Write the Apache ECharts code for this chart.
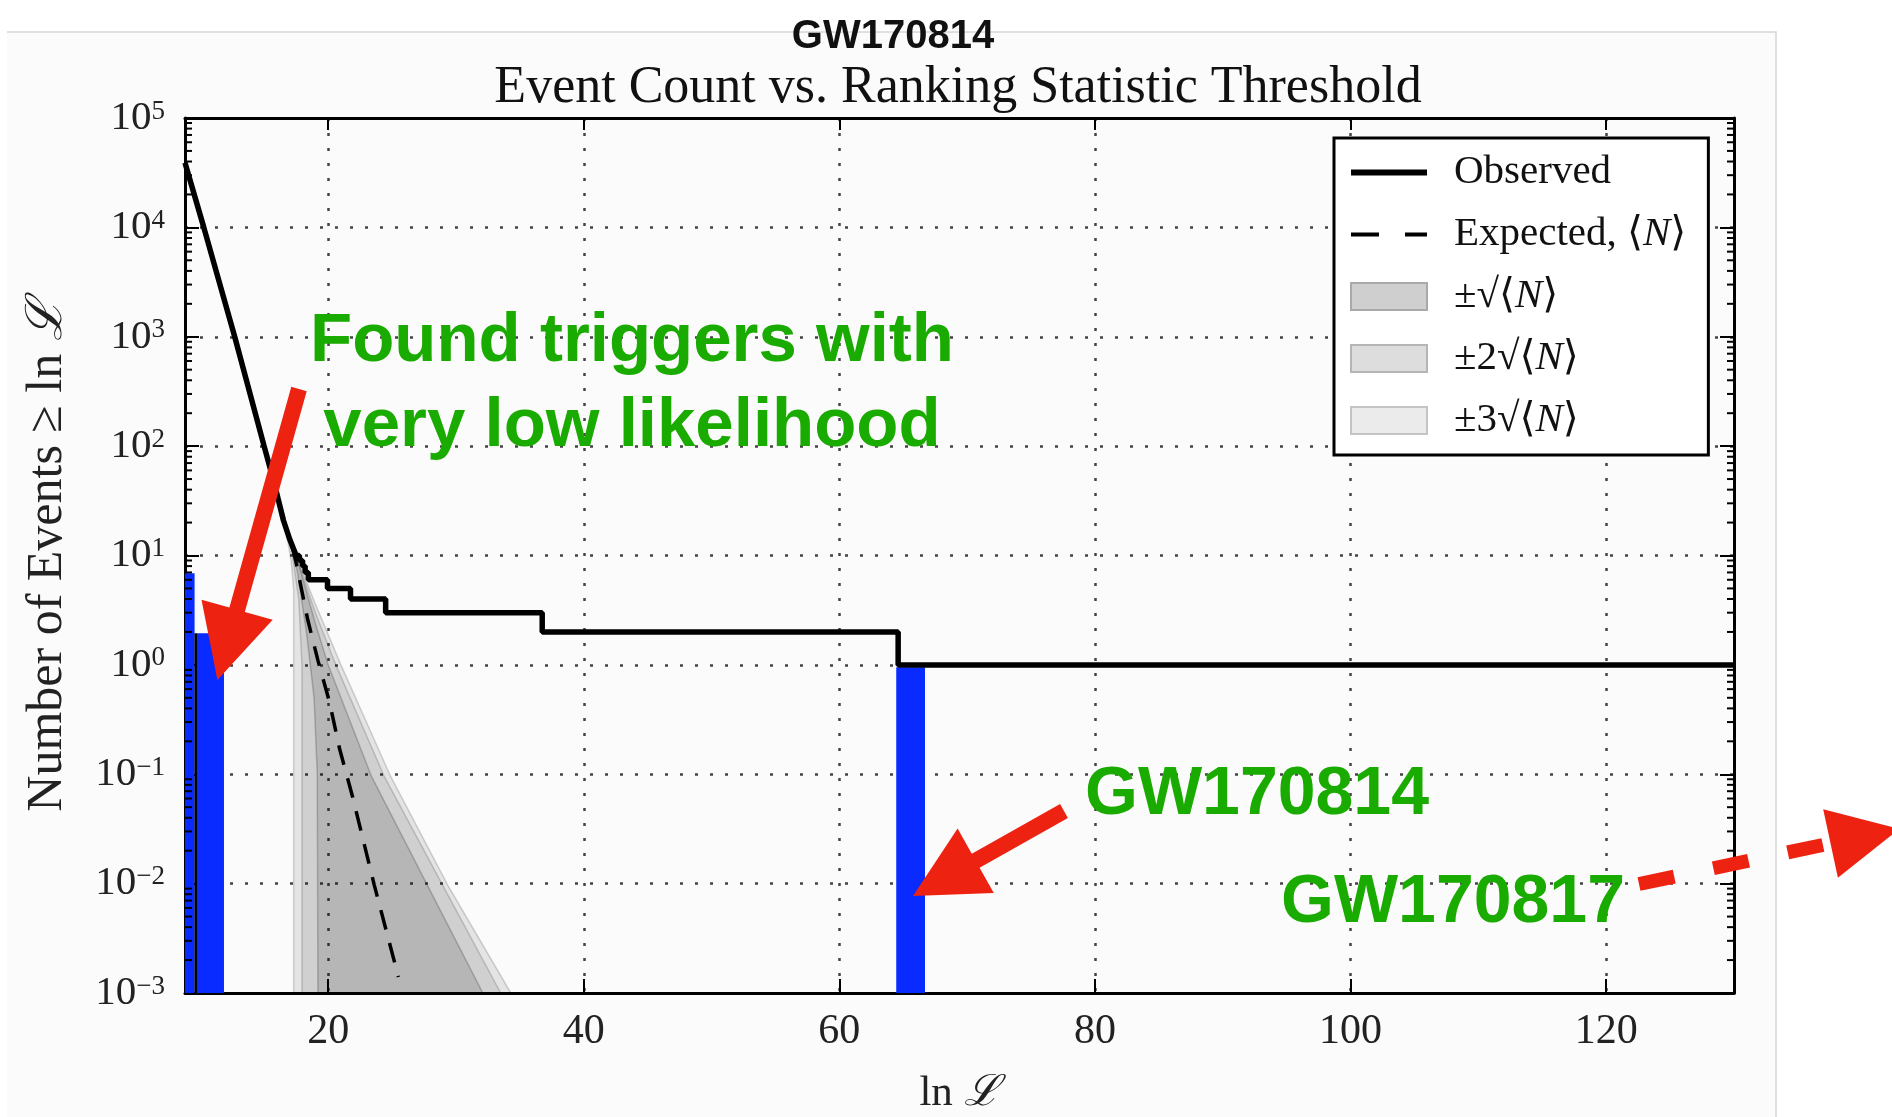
<!DOCTYPE html>
<html>
<head>
<meta charset="utf-8">
<title>GW170814 - Event Count vs. Ranking Statistic Threshold</title>
<script src="https://cdn.jsdelivr.net/npm/echarts@6/dist/echarts.min.js"></script>
<style>
  html, body { margin: 0; padding: 0; background: #fff; }
  #chart { width: 1892px; height: 1117px; }
</style>
</head>
<body>
<div id="chart"></div>
<script>
// axis ranges
const xMin = 8.8
const xMax = 130
const yMin = 1e-3
const yMax = 1e5

// observed number of events >= ln L (black solid, steps written out)
const observed = [
  [8.8, 39000], [10.27, 10000], [12.69, 1000], [14.99, 100], [15.8, 45],
  [16.5, 21], [17.0, 14], [17.5, 10], [17.75, 10], [17.75, 9], [18.0, 9],
  [18.0, 8], [18.2, 8], [18.2, 7], [18.45, 7], [18.45, 6], [19.95, 6],
  [19.95, 5], [21.75, 5], [21.75, 4], [24.5, 4], [24.5, 3], [36.75, 3],
  [36.75, 2], [64.6, 2], [64.6, 1], [130, 1]
]

// expected <N> (black dashed)
const expected = [
  [17.2, 12], [17.5, 8.5], [18.4, 2.6], [19.2, 1.1], [20.1, 0.46],
  [20.9, 0.17], [21.9, 0.063], [23.6, 0.0098], [25.5, 0.0014]
]

// grey bands, outline (upper edge, then lower edge back)
const band1 = [
  [16.8, 18], [17.5, 10], [19.0, 2.4], [20.0, 1.0], [23.4, 0.095], [27.8, 0.0095], [32.1, 0.001],
  [19.2, 0.001], [19.15, 0.1], [18.9, 0.5], [18.3, 2.0], [17.6, 7.0]
]
const band2 = [
  [16.4, 28], [17.0, 14], [17.5, 10], [19.0, 3.0], [20.6, 1.0], [24.4, 0.095], [29.0, 0.0095], [33.5, 0.001],
  [17.95, 0.001], [17.95, 1.0], [17.7, 4.0], [17.2, 10]
]
const band3 = [
  [16.0, 40], [16.5, 21], [17.0, 14], [17.5, 10], [19.0, 3.6], [21.0, 1.0], [24.9, 0.095], [29.4, 0.0095], [34.3, 0.001],
  [17.3, 0.001], [17.3, 5.0], [17.1, 9.0], [16.6, 20]
]

// blue found triggers: [x start, x end, top]
const foundBars = [[8.8, 9.55, 6.9], [9.72, 11.85, 1.95], [64.45, 66.7, 0.95]]
const foundEdge = [[9.64, 0.001], [9.64, 1.95]]

// log axis minor ticks
const minorMantissa = [2, 3, 4, 5, 6, 7, 8, 9]
const decadeExp = [-3, -2, -1, 0, 1, 2, 3, 4]
const minorTicks = []
decadeExp.forEach(e => {
  minorMantissa.forEach(m => {
    minorTicks.push([xMin, m * Math.pow(10, e)])
  })
})

const serif = "'Liberation Serif', 'DejaVu Serif', serif"
const sans = "'Liberation Sans', Arial, sans-serif"
const red = '#ee2211'
const green = '#1aab00'
const noSymbol = { color: 'transparent', borderWidth: 0 }

function bandRenderer(points, fill, stroke) {
  return function (params, api) {
    if (params.dataIndex !== 0) return null
    return {
      type: 'polygon',
      shape: { points: points.map(p => api.coord(p)) },
      style: { fill: fill, stroke: stroke, lineWidth: 1.5 }
    }
  }
}

const chart = echarts.init(document.getElementById('chart'))

chart.setOption({
  animation: false,
  backgroundColor: '#fff',
  textStyle: { fontFamily: serif },
  title: [
    {
      text: 'GW170814',
      left: 893,
      top: 17,
      padding: 0,
      textAlign: 'center',
      textStyle: { fontFamily: sans, fontWeight: 'bold', fontSize: 40, color: '#111' }
    },
    {
      text: 'Event Count vs. Ranking Statistic Threshold',
      left: 958,
      top: 62,
      padding: 0,
      textAlign: 'center',
      textStyle: { fontFamily: serif, fontWeight: 'normal', fontSize: 52, color: '#111' }
    }
  ],
  grid: {
    left: 185,
    right: 158,
    top: 118,
    bottom: 124,
    containLabel: false,
    outerBoundsMode: 'none'
  },
  legend: {
    orient: 'vertical',
    left: 1334,
    top: 138,
    backgroundColor: '#fff',
    borderColor: '#000',
    borderWidth: 3,
    borderRadius: 0,
    padding: [14, 22, 14, 14],
    itemWidth: 76,
    itemHeight: 27,
    itemGap: 21,
    selectedMode: false,
    textStyle: {
      fontFamily: serif,
      fontSize: 41,
      lineHeight: 40,
      color: '#111',
      padding: [0, 0, 0, 22],
      rich: {
        it: { fontFamily: serif, fontSize: 41, fontStyle: 'italic', color: '#111' }
      }
    },
    formatter: name => name.replace('N', '{it|N}'),
    data: [
      { name: 'Observed', itemStyle: noSymbol, lineStyle: { color: '#000', width: 6 } },
      { name: 'Expected, ⟨N⟩', itemStyle: noSymbol, lineStyle: { color: '#000', width: 4, type: [28, 26] } },
      { name: '±√⟨N⟩', icon: 'rect', itemStyle: { color: '#cfcfcf', borderColor: '#a9a9a9', borderWidth: 2 } },
      { name: '±2√⟨N⟩', icon: 'rect', itemStyle: { color: '#dddddd', borderColor: '#b5b5b5', borderWidth: 2 } },
      { name: '±3√⟨N⟩', icon: 'rect', itemStyle: { color: '#ebebeb', borderColor: '#c4c4c4', borderWidth: 2 } }
    ]
  },
  xAxis: [
    {
      type: 'value',
      min: xMin,
      max: xMax,
      splitNumber: 6,
      position: 'bottom',
      axisLine: { onZero: false, lineStyle: { color: '#000', width: 3 } },
      axisTick: { inside: true, length: 14, lineStyle: { color: '#000', width: 2 } },
      axisLabel: {
        showMinLabel: false,
        showMaxLabel: false,
        margin: 18,
        fontFamily: serif,
        fontSize: 42,
        color: '#222'
      },
      splitLine: { show: true, lineStyle: { color: '#444', width: 2.5, type: [3, 12] } },
      name: 'ln {s|ℒ}',
      nameLocation: 'middle',
      nameGap: 79,
      nameTextStyle: {
        fontFamily: serif,
        fontSize: 43,
        color: '#222',
        rich: { s: { fontFamily: serif, fontSize: 43, fontStyle: 'italic', color: '#222' } }
      }
    },
    {
      type: 'value',
      min: xMin,
      max: xMax,
      splitNumber: 6,
      position: 'top',
      axisLine: { onZero: false, lineStyle: { color: '#000', width: 3 } },
      axisTick: { inside: true, length: 12, lineStyle: { color: '#000', width: 2 } },
      axisLabel: { show: false },
      splitLine: { show: false }
    }
  ],
  yAxis: [
    {
      type: 'log',
      logBase: 10,
      min: yMin,
      max: yMax,
      splitNumber: 8,
      interval: 1,
      position: 'left',
      axisLine: { onZero: false, lineStyle: { color: '#000', width: 3 } },
      axisTick: { inside: true, length: 14, lineStyle: { color: '#000', width: 2 } },
      axisLabel: {
        margin: 20,
        formatter: v => {
          const e = Math.round(Math.log10(v))
          return '{b|10}{s|' + (e < 0 ? '−' + (-e) : e) + '}'
        },
        rich: {
          b: { fontFamily: serif, fontSize: 41, lineHeight: 40, color: '#222' },
          s: { fontFamily: serif, fontSize: 27, lineHeight: 27, verticalAlign: 'top', color: '#222' }
        }
      },
      splitLine: { show: true, lineStyle: { color: '#444', width: 2.5, type: [3, 12] } },
      name: 'Number of Events ≥ ln {s|ℒ}',
      nameLocation: 'middle',
      nameGap: 112,
      nameTextStyle: {
        fontFamily: serif,
        fontSize: 50,
        color: '#222',
        rich: { s: { fontFamily: serif, fontSize: 50, fontStyle: 'italic', color: '#222' } }
      }
    },
    {
      type: 'log',
      logBase: 10,
      min: yMin,
      max: yMax,
      splitNumber: 8,
      interval: 1,
      position: 'right',
      axisLine: { onZero: false, lineStyle: { color: '#000', width: 3 } },
      axisTick: { inside: true, length: 14, lineStyle: { color: '#000', width: 2 } },
      axisLabel: { show: false },
      splitLine: { show: false }
    }
  ],
  series: [
    {
      name: '±3√⟨N⟩',
      type: 'custom',
      coordinateSystem: 'cartesian2d',
      data: band3,
      encode: { x: 0, y: 1 },
      itemStyle: { color: '#ebebeb' },
      silent: true,
      z: 1,
      renderItem: bandRenderer(band3, 'rgba(0,0,0,0.09)', 'rgba(0,0,0,0.16)')
    },
    {
      name: '±2√⟨N⟩',
      type: 'custom',
      coordinateSystem: 'cartesian2d',
      data: band2,
      encode: { x: 0, y: 1 },
      itemStyle: { color: '#dddddd' },
      silent: true,
      z: 1,
      renderItem: bandRenderer(band2, 'rgba(0,0,0,0.085)', 'rgba(0,0,0,0.16)')
    },
    {
      name: '±√⟨N⟩',
      type: 'custom',
      coordinateSystem: 'cartesian2d',
      data: band1,
      encode: { x: 0, y: 1 },
      itemStyle: { color: '#cfcfcf' },
      silent: true,
      z: 1,
      renderItem: bandRenderer(band1, 'rgba(0,0,0,0.125)', 'rgba(0,0,0,0.2)')
    },
    {
      name: 'Expected, ⟨N⟩',
      type: 'line',
      data: expected,
      symbol: 'none',
      z: 3,
      lineStyle: { color: '#000', width: 3.5, type: [20, 14] },
      itemStyle: { color: '#000' }
    },
    {
      name: 'found',
      type: 'custom',
      coordinateSystem: 'cartesian2d',
      data: foundBars,
      encode: { x: [0, 1], y: 2 },
      silent: true,
      z: 4,
      renderItem: (params, api) => {
        const p0 = api.coord([api.value(0), api.value(2)])
        const p1 = api.coord([api.value(1), yMin])
        return {
          type: 'rect',
          shape: { x: p0[0], y: p0[1], width: p1[0] - p0[0], height: p1[1] - p0[1] },
          style: { fill: '#0a2bff' }
        }
      }
    },
    {
      name: 'foundEdge',
      type: 'line',
      data: foundEdge,
      symbol: 'none',
      z: 5,
      lineStyle: { color: '#000', width: 2.5 }
    },
    {
      name: 'Observed',
      type: 'line',
      data: observed,
      symbol: 'none',
      z: 6,
      lineStyle: { color: '#000', width: 5.5 },
      itemStyle: { color: '#000' }
    },
    {
      name: 'minorTicks',
      type: 'custom',
      coordinateSystem: 'cartesian2d',
      data: minorTicks,
      encode: { x: 0, y: 1 },
      silent: true,
      z: 7,
      renderItem: (params, api) => {
        const l = api.coord([xMin, api.value(1)])
        const r = api.coord([xMax, api.value(1)])
        return {
          type: 'group',
          children: [
            { type: 'line', shape: { x1: l[0], y1: l[1], x2: l[0] + 7, y2: l[1] }, style: { stroke: '#000', lineWidth: 2 } },
            { type: 'line', shape: { x1: r[0] - 7, y1: r[1], x2: r[0], y2: r[1] }, style: { stroke: '#000', lineWidth: 2 } }
          ]
        }
      }
    }
  ],
  graphic: [
    // slide frame behind the figure
    { type: 'rect', z: -10, silent: true, shape: { x: 7, y: 32, width: 1769, height: 1100 }, style: { fill: '#fbfbfb' } },
    { type: 'polyline', z: -9, silent: true, shape: { points: [[7, 32], [1776, 32], [1776, 1117]] }, style: { stroke: '#d6d6d6', lineWidth: 1.5, fill: null } },
    // green notes
    { type: 'text', z: 100, x: 632, y: 342, style: { text: 'Found triggers with', fill: green, font: 'bold 69px ' + sans, align: 'center', verticalAlign: 'middle' } },
    { type: 'text', z: 100, x: 632, y: 427, style: { text: 'very low likelihood', fill: green, font: 'bold 69px ' + sans, align: 'center', verticalAlign: 'middle' } },
    { type: 'text', z: 100, x: 1257, y: 795, style: { text: 'GW170814', fill: green, font: 'bold 68px ' + sans, align: 'center', verticalAlign: 'middle' } },
    { type: 'text', z: 100, x: 1453, y: 903, style: { text: 'GW170817', fill: green, font: 'bold 68px ' + sans, align: 'center', verticalAlign: 'middle' } },
    // red arrows
    {
      type: 'polygon', z: 100, silent: true,
      shape: { points: [[306.7, 391.2], [244.8, 611.9], [272.7, 619.7], [217.4, 680], [201.5, 599.7], [229.4, 607.5], [291.3, 386.8]] },
      style: { fill: red }
    },
    {
      type: 'polygon', z: 100, silent: true,
      shape: { points: [[1067.9, 818], [979.6, 867.7], [993.8, 892.9], [913, 896], [957.6, 828.5], [971.8, 853.7], [1060.1, 804]] },
      style: { fill: red }
    },
    {
      type: 'line', z: 100, silent: true,
      shape: { x1: 1639, y1: 884, x2: 1830, y2: 843.5 },
      style: { stroke: red, lineWidth: 14, lineDash: [36, 40] }
    },
    {
      type: 'polygon', z: 100, silent: true,
      shape: { points: [[1837.9, 877.7], [1899.5, 828.8], [1823.2, 809.3]] },
      style: { fill: red }
    }
  ]
})
</script>
</body>
</html>
